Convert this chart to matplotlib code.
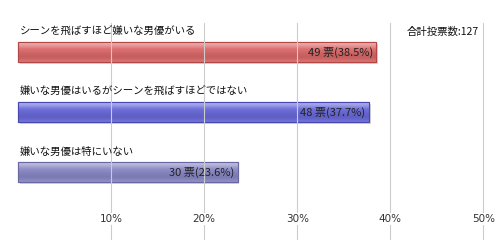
import matplotlib
matplotlib.use("Agg")
import matplotlib.pyplot as plt
import numpy as np
from matplotlib.colors import to_rgb

plt.rcParams['font.family'] = ['Noto Sans CJK JP', 'DejaVu Sans']

categories = ["シーンを飛ばすほど嫌いな男優がいる",
              "嫌いな男優はいるがシーンを飛ばすほどではない",
              "嫌いな男優は特にいない"]
votes = [49, 48, 30]
percents = [38.5, 37.7, 23.6]
total_votes = 127
ticks = [10, 20, 30, 40, 50]
tick_labels = ["10%", "20%", "30%", "40%", "50%"]
colors = ["#d96a6a", "#6a6ad8", "#8a88c4"]
edge_colors = ["#b04848", "#4848b0", "#6a68a0"]

fig = plt.figure(figsize=(5, 2.4), dpi=100)
ax = fig.add_axes([0, 0, 1, 1])
px_per_pct = 9.306
ax.set_xlim(-18 / px_per_pct, (500 - 18) / px_per_pct)
ax.set_ylim(240, 0)
ax.axis('off')

# grid lines
for t, lab in zip(ticks, tick_labels):
    ax.plot([t, t], [23, 240], color="#cccccc", lw=0.8, zorder=3)
    ax.text(t, 219, lab, ha='center', va='center', fontsize=7.5, color="#333333",
            bbox=dict(facecolor='white', edgecolor='none', pad=0.5), zorder=4,
            family=['DejaVu Sans'])

ypos = [52 + 60 * i for i in range(len(categories))]
bh = 20
for i, (cat, v, p) in enumerate(zip(categories, votes, percents)):
    y = ypos[i]
    # shadow
    ax.barh(y + 1.5, p, height=bh, left=0.2, color="#bbbbbb", alpha=0.6, zorder=1)
    bars = ax.barh(y, p, height=bh, color=colors[i], edgecolor=edge_colors[i], lw=0.8, zorder=2)
    patch = bars[0]
    base = np.array(to_rgb(colors[i]))
    prof = np.array([0.45, 0.35, 0.2, 0.05, 0.0, -0.05, -0.08, -0.1, -0.05, 0.05])
    grad = []
    for s in prof:
        if s >= 0:
            c = base + (1 - base) * s
        else:
            c = base * (1 + s)
        grad.append(c)
    grad = np.array(grad)[:, None, :]
    im = ax.imshow(grad, extent=[0, p, y + bh / 2, y - bh / 2], aspect='auto',
                   zorder=2.5, interpolation='bilinear')
    im.set_clip_path(patch)
    ax.barh(y, p, height=bh, facecolor='none', edgecolor=edge_colors[i], lw=0.8, zorder=2.6)
    ax.text(0.2, y - 20, cat, ha='left', va='center', fontsize=7.5, color="#111111", zorder=5)
    ax.text(p - 0.35, y, f"{v} 票({p}%)", ha='right', va='center', fontsize=8,
            color="#222222", zorder=5)

ax.text(479 / px_per_pct - 18 / px_per_pct, 32, f"合計投票数:{total_votes}", ha='right',
        va='center', fontsize=7.5, color="#111111", zorder=5)

fig.savefig("out.png", dpi=100)
